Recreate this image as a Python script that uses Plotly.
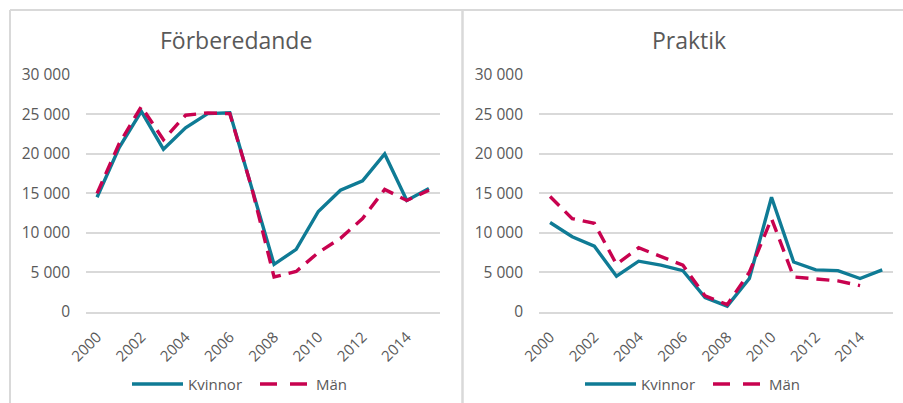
import plotly.graph_objects as go

# --- data -------------------------------------------------------------
years = list(range(2000, 2016))
year_ticks = list(range(2000, 2016, 2))
year_tick_labels = [str(y) for y in year_ticks]

y_ticks = [0, 5000, 10000, 15000, 20000, 25000, 30000]
y_tick_labels = ["0", "5 000", "10 000", "15 000", "20 000", "25 000", "30 000"]

panel_titles = ["Förberedande", "Praktik"]
series_names = ["Kvinnor", "Män"]

forb_kvinnor = [14500, 20800, 25400, 20600, 23300, 25100, 25200, 15700,
                6000, 7900, 12700, 15400, 16600, 20000, 14100, 15600]
forb_man = [15000, 21300, 26000, 21800, 24900, 25200, 25100, 15600,
            4400, 5100, 7500, 9300, 11800, 15500, 14100, 15400]

prak_kvinnor = [11300, 9500, 8300, 4500, 6400, 5900, 5200, 1800,
                700, 4200, 14500, 6300, 5300, 5200, 4200, 5300]
prak_man = [14600, 11800, 11200, 6000, 8100, 7000, 5900, 2000,
            900, 5000, 11800, 4400, 4200, 3900, 3300, None]

# --- styling ----------------------------------------------------------
W, H = 903, 403
TEAL = "#0F7B95"
CRIMSON = "#C8024F"
GRID = "#D9D9D9"
TEXT = "#595959"
FONT = "Open Sans"
LINE_W = 3.4


def px(x):
    return x / W


def py(y):
    return 1 - y / H


fig = go.Figure()

panels = [
    (forb_kvinnor, forb_man, "x", "y"),
    (prak_kvinnor, prak_man, "x2", "y2"),
]
for kv, mn, xa, ya in panels:
    fig.add_trace(go.Scatter(x=years, y=kv, name=series_names[0], mode="lines",
                             line=dict(color=TEAL, width=LINE_W),
                             xaxis=xa, yaxis=ya, showlegend=False))
    fig.add_trace(go.Scatter(x=years, y=mn, name=series_names[1], mode="lines",
                             line=dict(color=CRIMSON, width=LINE_W, dash="13px,8px"),
                             xaxis=xa, yaxis=ya, showlegend=False,
                             connectgaps=False))

plot_top, plot_bottom = 75, 311.7
x_domains = [(86, 440), (539, 893.3)]

axis_common_x = dict(
    range=[1999.5, 2015.5], tickmode="array", tickvals=year_ticks,
    ticktext=year_tick_labels, tickangle=-45, showgrid=False,
    zeroline=False, showline=True, linecolor=GRID, linewidth=1.5,
    ticks="", tickfont=dict(family=FONT, size=15, color=TEXT),
    ticklabelstandoff=9, fixedrange=True, automargin=False,
)
axis_common_y = dict(
    range=[0, 30000], tickmode="array", tickvals=y_ticks,
    ticktext=y_tick_labels, showgrid=True, gridcolor=GRID, gridwidth=1.5,
    zeroline=False, showline=False, ticks="",
    tickfont=dict(family=FONT, size=15.5, color=TEXT),
    ticklabelstandoff=15, fixedrange=True, automargin=False,
)

layout = dict(
    template="none",
    width=W, height=H, autosize=False,
    margin=dict(l=0, r=0, t=0, b=0, pad=0, autoexpand=False),
    paper_bgcolor="white", plot_bgcolor="white",
    showlegend=False,
)
for i, (x0, x1) in enumerate(x_domains):
    sfx = "" if i == 0 else str(i + 1)
    layout["xaxis" + sfx] = dict(axis_common_x, domain=[px(x0), px(x1)],
                                 anchor="y" + sfx)
    layout["yaxis" + sfx] = dict(axis_common_y,
                                 domain=[py(plot_bottom), py(plot_top)],
                                 anchor="x" + sfx)
fig.update_layout(**layout)

# chart frames
shapes = [
    dict(type="line", xref="paper", yref="paper", x0=px(10), x1=1.0,
         y0=py(10), y1=py(10), line=dict(color=GRID, width=2)),
    dict(type="line", xref="paper", yref="paper", x0=px(10), x1=px(10),
         y0=py(10), y1=0, line=dict(color=GRID, width=2)),
    dict(type="line", xref="paper", yref="paper", x0=px(462.5), x1=px(462.5),
         y0=py(10), y1=0, line=dict(color=GRID, width=2.5)),
]

annotations = []
title_centers = [236, 689]
for title, cx in zip(panel_titles, title_centers):
    annotations.append(dict(text=title, xref="paper", yref="paper",
                            x=px(cx), y=py(40), showarrow=False,
                            xanchor="center", yanchor="middle",
                            font=dict(family=FONT, size=23, color=TEXT)))

# legends below each panel
legend_y = 384
for offset in (0, 453):
    shapes.append(dict(type="line", xref="paper", yref="paper",
                       x0=px(132 + offset), x1=px(183 + offset),
                       y0=py(legend_y), y1=py(legend_y),
                       line=dict(color=TEAL, width=LINE_W)))
    shapes.append(dict(type="line", xref="paper", yref="paper",
                       x0=px(260 + offset), x1=px(307 + offset),
                       y0=py(legend_y), y1=py(legend_y),
                       line=dict(color=CRIMSON, width=LINE_W, dash="17px,13px")))
    for name, lx in zip(series_names, (186 + offset, 314 + offset)):
        annotations.append(dict(text=name, xref="paper", yref="paper",
                                x=px(lx), y=py(legend_y), showarrow=False,
                                xanchor="left", yanchor="middle",
                                font=dict(family=FONT, size=15, color=TEXT)))

fig.update_layout(shapes=shapes, annotations=annotations)

fig.write_html("out.html")
